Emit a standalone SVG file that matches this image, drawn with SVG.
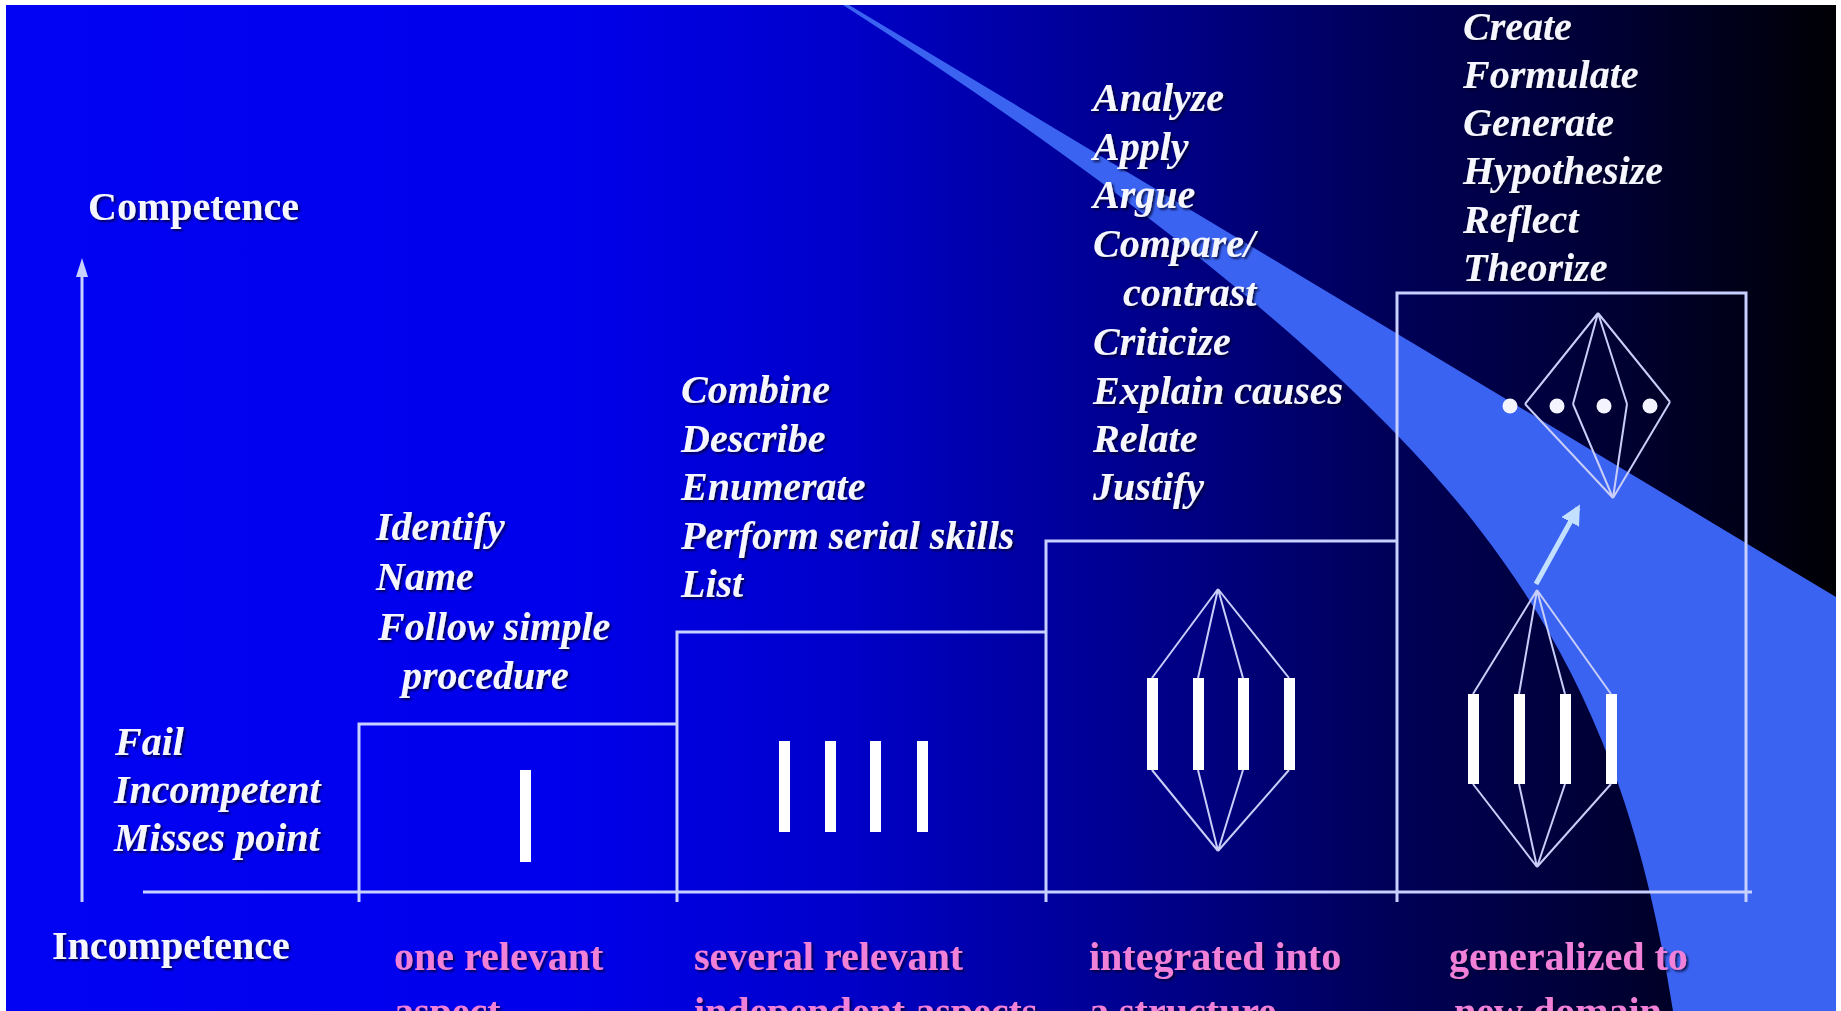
<svg xmlns="http://www.w3.org/2000/svg" width="1841" height="1011" viewBox="0 0 1841 1011">
  <defs>
    <linearGradient id="bg" x1="0" y1="0" x2="1" y2="0">
      <stop offset="0" stop-color="#0303f4"/>
      <stop offset="0.3" stop-color="#0000ec"/>
      <stop offset="0.45" stop-color="#0000cc"/>
      <stop offset="0.55" stop-color="#0000a6"/>
      <stop offset="0.65" stop-color="#000082"/>
      <stop offset="0.75" stop-color="#00005a"/>
      <stop offset="0.87" stop-color="#000036"/>
      <stop offset="1" stop-color="#000004"/>
    </linearGradient>
    <filter id="shadow" x="-10%" y="-30%" width="120%" height="160%">
      <feDropShadow dx="2" dy="2" stdDeviation="1" flood-color="#000022" flood-opacity="0.75"/>
    </filter>
    <marker id="head" viewBox="0 0 10 10" refX="8" refY="5" markerWidth="4" markerHeight="4" orient="auto">
      <path d="M0,0 L10,5 L0,10 Z" fill="#c4e0ff"/>
    </marker>
    <style>
      .t { font-family: "Liberation Serif", "Times New Roman", serif; font-weight: bold; font-size: 40px; fill: #f6f6ff; }
      .v { font-style: italic; }
      .lbl { fill: #f080d8; }
      .step { fill: none; stroke: #c8d0ff; stroke-width: 3; }
      .wire { fill: none; stroke: #c8cef8; stroke-width: 2; }
      .bar { fill: #ffffff; }
      .dot { fill: #f4f4ff; }
    </style>
  </defs>

  <g id="background">
    <rect x="0" y="0" width="1841" height="1011" fill="#ffffff"/>
    <rect x="6" y="5" width="1830" height="1006" fill="url(#bg)"/>
  </g>

  <g id="beam">
    <path d="M843,5 L849,5 L1836,597 L1836,1011 L1673,1011 C1640,800 1580,660 1480,530 C1350,360 1100,170 843,5 Z" fill="#3a63f2"/>
  </g>

  <g id="axes">
    <path class="step" d="M82,902 V272"/>
    <polygon points="82,258 76,277 88,277" fill="#c8d0ff"/>
    <path class="step" d="M143,892 H1752"/>
  </g>

  <g id="axis-labels" filter="url(#shadow)">
    <text class="t" x="88" y="220">Competence</text>
    <text class="t" x="52" y="959">Incompetence</text>
  </g>

  <g id="level-prestructural" filter="url(#shadow)">
    <text class="t v" x="115" y="755">Fail</text>
    <text class="t v" x="114" y="803">Incompetent</text>
    <text class="t v" x="114" y="851">Misses point</text>
  </g>

  <g id="level-unistructural">
    <path class="step" d="M359,902 V724 H677"/>
    <rect class="bar" x="520" y="770" width="11" height="92"/>
    <g filter="url(#shadow)">
      <text class="t v" x="376" y="540">Identify</text>
      <text class="t v" x="376" y="590">Name</text>
      <text class="t v" x="378" y="640">Follow simple</text>
      <text class="t v" x="402" y="689">procedure</text>
      <text class="t lbl" x="394" y="970">one relevant</text>
      <text class="t lbl" x="394" y="1025">aspect</text>
    </g>
  </g>

  <g id="level-multistructural">
    <path class="step" d="M677,902 V632 H1046"/>
    <rect class="bar" x="779" y="741" width="11" height="91"/>
    <rect class="bar" x="825" y="741" width="11" height="91"/>
    <rect class="bar" x="870" y="741" width="11" height="91"/>
    <rect class="bar" x="917" y="741" width="11" height="91"/>
    <g filter="url(#shadow)">
      <text class="t v" x="681" y="403">Combine</text>
      <text class="t v" x="681" y="452">Describe</text>
      <text class="t v" x="681" y="500">Enumerate</text>
      <text class="t v" x="681" y="549">Perform serial skills</text>
      <text class="t v" x="681" y="597">List</text>
      <text class="t lbl" x="694" y="970">several relevant</text>
      <text class="t lbl" x="694" y="1025">independent aspects</text>
    </g>
  </g>

  <g id="level-relational">
    <path class="step" d="M1046,902 V541 H1397"/>
    <rect class="bar" x="1147" y="678" width="11" height="92"/>
    <rect class="bar" x="1193" y="678" width="11" height="92"/>
    <rect class="bar" x="1238" y="678" width="11" height="92"/>
    <rect class="bar" x="1284" y="678" width="11" height="92"/>
    <g filter="url(#shadow)">
      <text class="t v" x="1093" y="111">Analyze</text>
      <text class="t v" x="1093" y="160">Apply</text>
      <text class="t v" x="1093" y="208">Argue</text>
      <text class="t v" x="1093" y="257">Compare/</text>
      <text class="t v" x="1123" y="306">contrast</text>
      <text class="t v" x="1093" y="355">Criticize</text>
      <text class="t v" x="1093" y="404">Explain causes</text>
      <text class="t v" x="1093" y="452">Relate</text>
      <text class="t v" x="1093" y="500">Justify</text>
      <text class="t lbl" x="1089" y="970">integrated into</text>
      <text class="t lbl" x="1089" y="1025">a structure</text>
    </g>
  </g>

  <g id="level-extended-abstract">
    <path class="step" d="M1397,902 V293 H1746 V902"/>
    <rect class="bar" x="1468" y="694" width="11" height="90"/>
    <rect class="bar" x="1514" y="694" width="11" height="90"/>
    <rect class="bar" x="1560" y="694" width="11" height="90"/>
    <rect class="bar" x="1606" y="694" width="11" height="90"/>
    <circle class="dot" cx="1510" cy="406" r="7.5"/>
    <circle class="dot" cx="1557" cy="406" r="7.5"/>
    <circle class="dot" cx="1604" cy="406" r="7.5"/>
    <circle class="dot" cx="1650" cy="406" r="7.5"/>
    <g filter="url(#shadow)">
      <text class="t v" x="1463" y="40">Create</text>
      <text class="t v" x="1463" y="88">Formulate</text>
      <text class="t v" x="1463" y="136">Generate</text>
      <text class="t v" x="1463" y="184">Hypothesize</text>
      <text class="t v" x="1463" y="233">Reflect</text>
      <text class="t v" x="1463" y="281">Theorize</text>
      <text class="t lbl" x="1449" y="970">generalized to</text>
      <text class="t lbl" x="1454" y="1025">new domain</text>
    </g>
  </g>

  <g id="connectors">
    <path class="wire" d="M1218,589 L1152,678 M1218,589 L1198,678 M1218,589 L1243,678 M1218,589 L1289,678"/>
    <path class="wire" d="M1218,851 L1152,770 M1218,851 L1198,770 M1218,851 L1243,770 M1218,851 L1289,770"/>
    <path class="wire" d="M1537,590 L1473,694 M1537,590 L1519,694 M1537,590 L1565,694 M1537,590 L1611,694"/>
    <path class="wire" d="M1537,867 L1473,784 M1537,867 L1519,784 M1537,867 L1565,784 M1537,867 L1611,784"/>
    <path class="wire" d="M1598,313 L1525,404 M1598,313 L1573,404 M1598,313 L1627,404 M1598,313 L1670,402"/>
    <path class="wire" d="M1613,498 L1525,404 M1613,498 L1573,404 M1613,498 L1627,404 M1613,498 L1670,402"/>
    <path d="M1536,584 L1578,508" stroke="#c4e0ff" stroke-width="5" fill="none" marker-end="url(#head)"/>
  </g>
</svg>
